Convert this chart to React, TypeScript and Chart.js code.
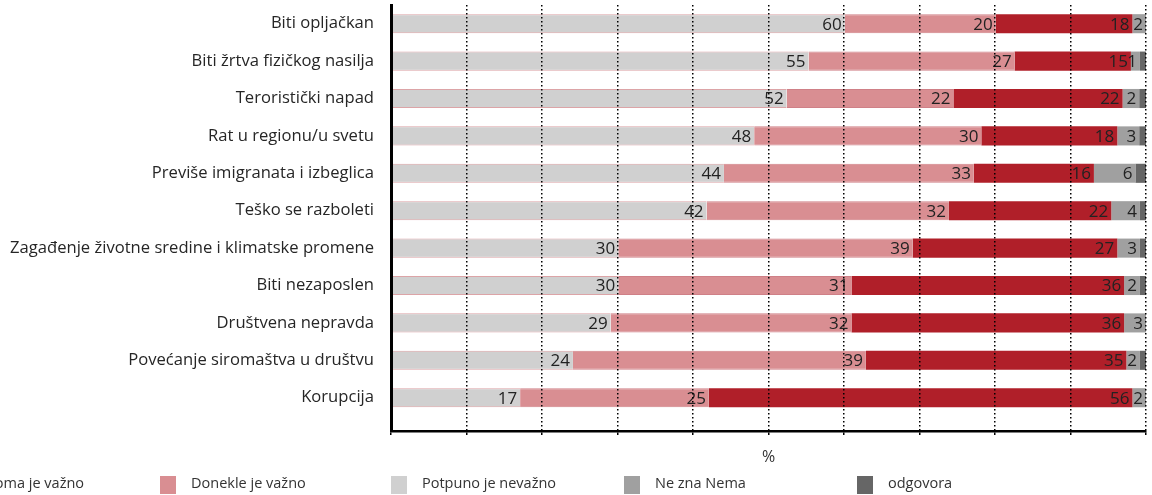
import React, { useEffect, useRef } from 'react';
import { Chart, registerables } from 'chart.js';

Chart.register(...registerables);

const categories = [
  'Biti opljačkan',
  'Biti žrtva fizičkog nasilja',
  'Teroristički napad',
  'Rat u regionu/u svetu',
  'Previše imigranata i izbeglica',
  'Teško se razboleti',
  'Zagađenje životne sredine i klimatske promene',
  'Biti nezaposlen',
  'Društvena nepravda',
  'Povećanje siromaštva u društvu',
  'Korupcija',
];

// Values; labels show the rounded value.
const potpunoNevazno = [60.1, 55.3, 52.4, 48.1, 44.1, 41.8, 30.1, 30.1, 29.1, 24.1, 17.1];
const donekleVazno = [20.0, 27.3, 22.1, 30.1, 33.1, 32.1, 39.0, 30.9, 31.9, 38.8, 25.0];
const veomaVazno = [18.1, 15.4, 22.4, 18.0, 15.9, 21.5, 27.1, 36.1, 36.1, 34.5, 56.1];
const neZna = [1.8, 1.2, 2.2, 2.9, 5.5, 3.8, 3.0, 2.1, 2.9, 1.8, 1.8];
const nemaOdgovora = [0, 0.8, 0.9, 0.9, 1.4, 0.8, 0.8, 0.8, 0, 0.8, 0];

const legendLabels = ['Veoma je važno', 'Donekle je važno', 'Potpuno je nevažno', 'Ne zna Nema', 'odgovora'];
const axisTitle = '%';

const RED = '#b01f29';
const PINK = '#d98e92';
const LIGHT = '#d0d0d0';
const MID = '#a0a0a0';
const DARK = '#666666';

const FONT = "'Open Sans', 'Noto Sans', sans-serif";

const legendPlugin = {
  id: 'customLegend',
  afterDraw(chart: any) {
    const ctx = chart.ctx;
    const items = [
      { text: legendLabels[0], color: RED, x: -53 },
      { text: legendLabels[1], color: PINK, x: 160 },
      { text: legendLabels[2], color: LIGHT, x: 391 },
      { text: legendLabels[3], color: MID, x: 624 },
      { text: legendLabels[4], color: DARK, x: 857 },
    ];
    ctx.save();
    ctx.font = `14.5px ${FONT}`;
    ctx.textBaseline = 'middle';
    ctx.textAlign = 'left';
    items.forEach((it) => {
      ctx.fillStyle = it.color;
      ctx.fillRect(it.x, 476, 16, 18);
      ctx.fillStyle = '#333333';
      ctx.fillText(it.text, it.x + 31, 484);
    });
    ctx.restore();
  },
};

const labelPlugin = {
  id: 'barLabels',
  afterDatasetsDraw(chart: any) {
    const ctx = chart.ctx;
    const area = chart.chartArea;
    ctx.save();
    ctx.font = `17px ${FONT}`;
    ctx.fillStyle = '#222222';
    ctx.textAlign = 'right';
    ctx.textBaseline = 'middle';
    chart.data.datasets.forEach((ds: any, di: number) => {
      if (!ds.showLabels) return;
      const meta = chart.getDatasetMeta(di);
      meta.data.forEach((bar: any, i: number) => {
        const v = ds.data[i];
        if (!v) return;
        const p = bar.getProps(['x', 'y'], true);
        ctx.fillText(String(Math.round(v)), Math.min(p.x, area.right) - 3, p.y + 1);
      });
    });
    ctx.restore();
  },
};

export default function App() {
  const ref = useRef<HTMLCanvasElement | null>(null);

  useEffect(() => {
    if (!ref.current) return;
    Chart.defaults.font.family = FONT;
    const common = { clip: 0, borderSkipped: false };
    const chart = new Chart(ref.current, {
      type: 'bar',
      data: {
        labels: categories,
        datasets: [
          { label: 'Potpuno je nevažno', data: potpunoNevazno, backgroundColor: LIGHT, borderColor: '#dca4a7', borderWidth: { top: 1, bottom: 1, left: 0, right: 0 }, showLabels: true, ...common } as any,
          { label: 'Donekle je važno', data: donekleVazno, backgroundColor: PINK, borderColor: '#cf8087', borderWidth: { top: 1, bottom: 1, left: 0, right: 0 }, showLabels: true, ...common } as any,
          { label: 'Veoma je važno', data: veomaVazno, backgroundColor: RED, borderWidth: 0, showLabels: true, ...common } as any,
          { label: 'Ne zna', data: neZna, backgroundColor: MID, borderWidth: 0, showLabels: true, ...common } as any,
          { label: 'Nema odgovora', data: nemaOdgovora, backgroundColor: DARK, borderWidth: 0, showLabels: false, ...common } as any,
        ],
      },
      options: {
        indexAxis: 'y',
        animation: false,
        responsive: true,
        maintainAspectRatio: false,
        layout: { autoPadding: false, padding: { left: 0, right: 6, top: 5, bottom: 28 } },
        datasets: { bar: { barPercentage: 0.51, categoryPercentage: 1 } },
        plugins: {
          legend: { display: false },
          tooltip: { enabled: false },
          title: { display: false },
        },
        scales: {
          x: {
            stacked: true,
            min: 0,
            max: 100,
            ticks: { display: false, stepSize: 10, includeBounds: false },
            grid: { color: '#000000', lineWidth: 1.5, drawTicks: true, tickLength: 4, z: 1 },
            border: { display: true, color: '#000000', width: 2.5, dash: [1.5, 2.5], z: 2 },
            title: {
              display: true,
              text: axisTitle,
              color: '#333333',
              font: { size: 16, family: FONT },
              padding: { top: 0, bottom: 0 },
            },
            afterFit: (s: any) => {
              s.height = 36;
              s.paddingLeft = 0;
              s.paddingRight = 0;
            },
          },
          y: {
            stacked: true,
            grid: { display: false, drawTicks: false },
            border: { display: true, color: '#000000', width: 3, z: 2 },
            ticks: { color: '#262626', padding: 17, font: { size: 16.6, family: FONT }, autoSkip: false },
            afterFit: (s: any) => {
              s.width = 391;
              s.paddingTop = 0;
              s.paddingBottom = 0;
            },
            afterBuildTicks: (s: any) => {
              s._valueRange = 11.39;
            },
          },
        },
      },
      plugins: [labelPlugin, legendPlugin],
    } as any);
    return () => chart.destroy();
  }, []);

  return (
    <div style={{ position: 'fixed', left: 0, top: 0, width: 1152, height: 495, background: '#ffffff' }}>
      <canvas ref={ref} />
    </div>
  );
}
